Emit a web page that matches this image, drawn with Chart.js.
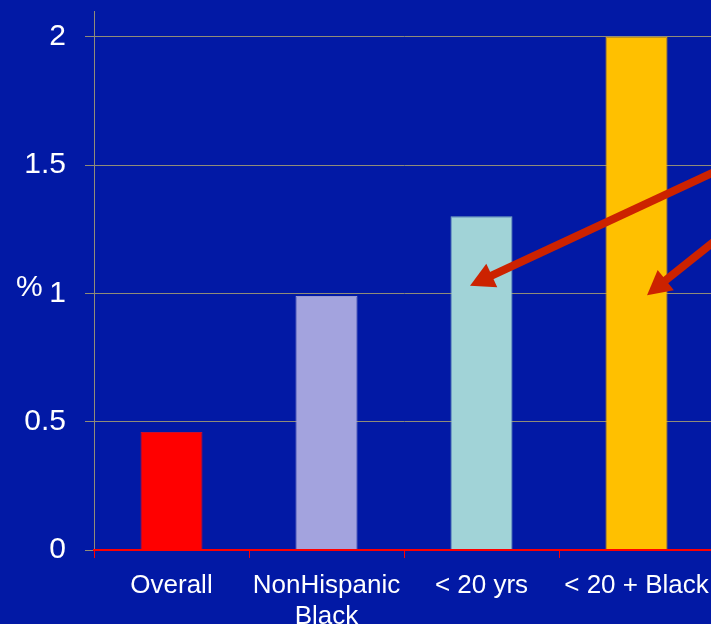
<!DOCTYPE html>
<html lang="en">
<head>
    <meta charset="UTF-8">
    <title>Percent by group</title>
    <script src="https://cdn.jsdelivr.net/npm/chart.js"></script>
    <style>
        html, body { margin: 0; padding: 0; background: #0219A5; overflow: hidden; }
        canvas { display: block; }
    </style>
</head>
<body>
    <canvas id="barChart" width="714" height="624"></canvas>

    <script>
        // Data
        const categories = ['Overall', ['NonHispanic', 'Black'], '< 20 yrs', '< 20 + Black'];
        const values = [0.46, 0.99, 1.30, 2.00];
        const barColors = ['#FF0000', '#A3A3DE', '#A1D3D7', '#FFC000'];
        const barEdges = ['#C8102E', '#9A9AD2', '#7FAFC0', '#E8A800'];
        const yTicks = [0, 0.5, 1, 1.5, 2];
        const yTitle = '%';

        // Arrows in data units: [category index, value]
        const arrows = [
            { from: [3.60, 1.50], to: [1.926, 1.03] },
            { from: [3.60, 1.25], to: [3.068, 0.993] }
        ];

        const white = '#FFFFFF';
        const gridGray = '#908C78';

        // draws the "%" title and the red arrows
        const extras = {
            id: 'extras',
            afterDatasetsDraw(chart) {
                const ctx = chart.ctx;
                const xs = chart.scales.x, ys = chart.scales.y;
                ctx.save();
                ctx.fillStyle = white;
                ctx.font = '30px "Liberation Sans", Arial, sans-serif';
                ctx.textAlign = 'left';
                ctx.textBaseline = 'alphabetic';
                ctx.fillText(yTitle, 16, ys.getPixelForValue(1) + 3);

                ctx.strokeStyle = '#CC2200';
                ctx.fillStyle = '#CC2200';
                ctx.lineWidth = 8;
                arrows.forEach(a => {
                    const x1 = xs.getPixelForValue(a.from[0]), y1 = ys.getPixelForValue(a.from[1]);
                    const x2 = xs.getPixelForValue(a.to[0]), y2 = ys.getPixelForValue(a.to[1]);
                    const ang = Math.atan2(y2 - y1, x2 - x1);
                    const headLen = 24, headW = 13;
                    const bx = x2 - headLen * Math.cos(ang), by = y2 - headLen * Math.sin(ang);
                    ctx.beginPath();
                    ctx.moveTo(x1, y1);
                    ctx.lineTo(bx + 2 * Math.cos(ang), by + 2 * Math.sin(ang));
                    ctx.stroke();
                    ctx.beginPath();
                    ctx.moveTo(x2, y2);
                    ctx.lineTo(bx + headW * Math.sin(ang), by - headW * Math.cos(ang));
                    ctx.lineTo(bx - headW * Math.sin(ang), by + headW * Math.cos(ang));
                    ctx.closePath();
                    ctx.fill();
                });
                ctx.restore();
            }
        };

        const ctx = document.getElementById('barChart').getContext('2d');
        new Chart(ctx, {
            type: 'bar',
            data: {
                labels: categories,
                datasets: [{
                    data: values,
                    backgroundColor: barColors,
                    borderColor: barEdges,
                    borderWidth: 1,
                    categoryPercentage: 1,
                    barPercentage: 0.4
                }]
            },
            options: {
                responsive: false,
                animation: false,
                layout: { padding: { top: 11, right: 0, left: 0, bottom: 0 } },
                plugins: {
                    legend: { display: false },
                    tooltip: { enabled: false }
                },
                scales: {
                    x: {
                        offset: true,
                        grid: {
                            drawOnChartArea: false,
                            color: '#FF0000',
                            tickLength: 8,
                            offset: true
                        },
                        border: { color: '#FF0000', width: 2, z: 1 },
                        ticks: {
                            color: white,
                            font: { family: '"Liberation Sans", Arial, sans-serif', size: 26 },
                            padding: 12,
                            maxRotation: 0,
                            minRotation: 0,
                            autoSkip: false
                        },
                        afterFit(s) { s.height = 74; s.paddingLeft = 0; s.paddingRight = 0; }
                    },
                    y: {
                        min: 0,
                        max: 2.1,
                        afterBuildTicks(s) { s.ticks = yTicks.map(v => ({ value: v })); },
                        grid: { color: gridGray, lineWidth: 1, tickLength: 9 },
                        border: { color: gridGray, width: 1 },
                        ticks: {
                            color: white,
                            font: { family: '"Liberation Sans", Arial, sans-serif', size: 30 },
                            padding: 19,
                            callback: v => String(v)
                        },
                        afterFit(s) { s.width = 94; s.paddingTop = 0; s.paddingBottom = 0; }
                    }
                }
            },
            plugins: [extras]
        });
    </script>
</body>
</html>
